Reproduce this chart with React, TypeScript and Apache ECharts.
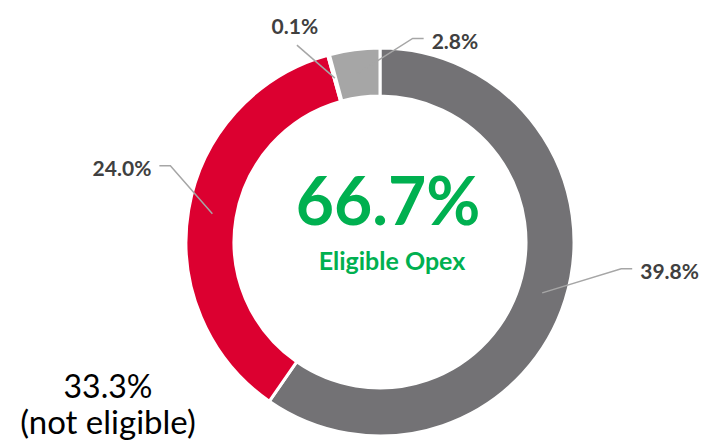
import React, { useEffect, useRef } from "react";
import * as echarts from "echarts";

const categories = ["Opex A", "Opex B", "Opex C", "Opex D"];
const values = [39.8, 24.0, 0.1, 2.8];
const sliceColors = ["#737275", "#DC0030", "#F2F2F2", "#A6A6A6"];
const eligibleShare = "66.7%";
const eligibleCaption = "Eligible Opex";
const notEligibleShare = "33.3%";
const notEligibleCaption = "(not eligible)";

// label layout (offsets from the line start on the ring's mid radius)
const labelKnee: number[][] = [[79, -24], [-42, -48], [-38, -33], [55, -35]];
const labelTail = [11, -11, 0, 11];

const CX = 380;
const CY = 242;
const R_IN = 146;
const R_OUT = 194;

export default function App() {
  const ref = useRef<HTMLDivElement>(null);
  useEffect(() => {
    document.body.style.margin = "0";
    if (!ref.current) return;
    const chart = echarts.init(ref.current, null, { renderer: "svg" });
    const total = values.reduce((a, b) => a + b, 0);
    const starts: number[][] = [];
    let acc = 0;
    values.forEach((v) => {
      const mid = ((acc + v / 2) / total) * Math.PI * 2;
      acc += v;
      const rm = (R_IN + R_OUT) / 2;
      starts.push([CX + rm * Math.sin(mid), CY - rm * Math.cos(mid)]);
    });
    const font = "Lato, 'Open Sans', sans-serif";
    const lines = starts.map(([sx, sy], i) => {
      const kx = sx + labelKnee[i][0];
      const ky = sy + labelKnee[i][1];
      return {
        type: "polyline",
        silent: true,
        z: 10,
        shape: { points: [[sx, sy], [kx, ky], [kx + labelTail[i], ky]] },
        style: { stroke: "#A6A6A6", lineWidth: 1.5, fill: "none" },
      };
    });
    chart.setOption({
      animation: false,
      series: [
        {
          type: "pie",
          center: [CX, CY],
          radius: [R_IN, R_OUT],
          startAngle: 90,
          clockwise: true,
          itemStyle: { borderColor: "#ffffff", borderWidth: 3 },
          label: {
            show: true,
            position: "outside",
            formatter: (p: any) => Number(p.value).toFixed(1) + "%",
            fontFamily: font,
            fontWeight: "bold",
            fontSize: 21,
            color: "#404040",
          },
          labelLine: { show: false },
          labelLayout: (params: any) => {
            const i = params.dataIndex;
            const [sx, sy] = starts[i];
            const kx = sx + labelKnee[i][0];
            const ky = sy + labelKnee[i][1];
            const ex = kx + labelTail[i];
            if (labelTail[i] === 0) {
              return { x: kx - 2, y: ky - 20, align: "center", verticalAlign: "middle" };
            }
            return {
              x: ex + (labelTail[i] > 0 ? 8 : -8),
              y: ky + 2,
              align: labelTail[i] > 0 ? "left" : "right",
              verticalAlign: "middle",
            };
          },
          data: categories.map((name, i) => ({
            name,
            value: values[i],
            itemStyle: { color: sliceColors[i] },
          })),
        },
      ],
      graphic: [
        ...lines,
        {
          type: "text",
          style: {
            text: eligibleShare,
            x: 388,
            y: 199,
            align: "center",
            verticalAlign: "middle",
            fill: "#00B050",
            fontFamily: font,
            fontWeight: "bold",
            fontSize: 66,
          },
        },
        {
          type: "text",
          style: {
            text: eligibleCaption,
            x: 392,
            y: 260,
            align: "center",
            verticalAlign: "middle",
            fill: "#00B050",
            fontFamily: font,
            fontWeight: "bold",
            fontSize: 25,
          },
        },
        {
          type: "text",
          style: {
            text: notEligibleShare,
            x: 108,
            y: 385,
            align: "center",
            verticalAlign: "middle",
            fill: "#000000",
            fontFamily: font,
            fontSize: 32,
          },
        },
        {
          type: "text",
          style: {
            text: notEligibleCaption,
            x: 108,
            y: 421,
            align: "center",
            verticalAlign: "middle",
            fill: "#000000",
            fontFamily: font,
            fontSize: 33,
          },
        },
      ],
    });
    return () => chart.dispose();
  }, []);
  return <div ref={ref} style={{ width: 706, height: 447 }} />;
}
